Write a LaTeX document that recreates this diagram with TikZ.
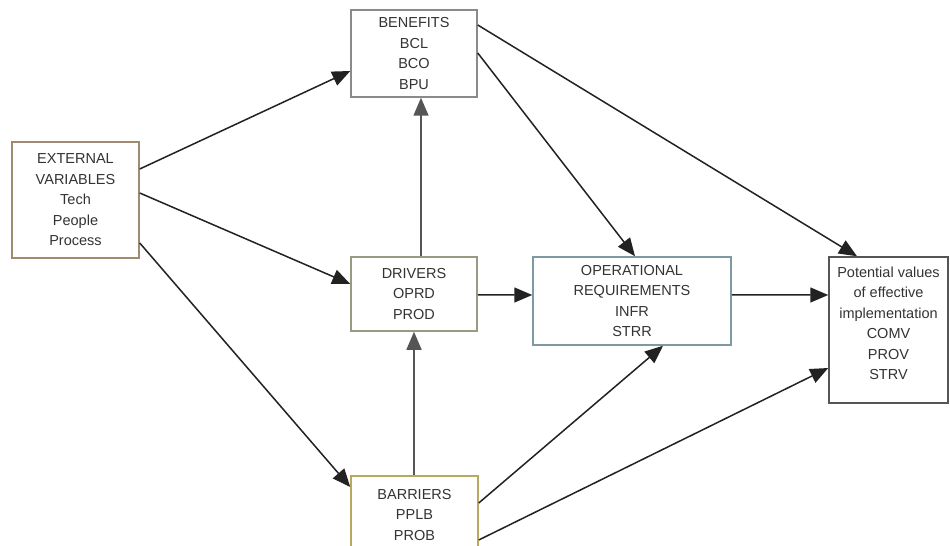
\documentclass[tikz,border=0pt]{standalone}
\usepackage{fontspec}
\setmainfont{Liberation Sans}
\usetikzlibrary{arrows.meta}
\definecolor{txtgray}{HTML}{333333}
\definecolor{extcol}{HTML}{A08A70}
\definecolor{bencol}{HTML}{8A8A8A}
\definecolor{drvcol}{HTML}{9A9A82}
\definecolor{opcol}{HTML}{7F99A3}
\definecolor{potcol}{HTML}{555555}
\definecolor{barcol}{HTML}{B8A860}
\definecolor{linkcol}{HTML}{222222}
\definecolor{vlinkcol}{HTML}{555555}
\begin{document}
\begin{tikzpicture}[x=1bp,y=-1bp,
  box/.style={draw, line width=1.5bp, fill=white, align=center, inner sep=0pt,
    text=txtgray, font=\fontsize{14.5bp}{20.5bp}\selectfont},
  link/.style={draw=linkcol, line width=1.5bp, -{Triangle[length=18bp,width=15bp]}},
  vlink/.style={link, draw=vlinkcol, line width=1.6bp}]
\useasboundingbox[fill=white] (0,0) rectangle (950,546);

% boxes
\node[box, draw=extcol, minimum width=127bp, minimum height=116bp] (ext) at (75.5,200)
  {EXTERNAL\\VARIABLES\\Tech\\People\\Process};
\node[box, draw=bencol, minimum width=126bp, minimum height=87bp] (ben) at (414,53.5)
  {BENEFITS\\BCL\\BCO\\BPU};
\node[box, draw=drvcol, minimum width=126bp, minimum height=74bp] (drv) at (414,294)
  {DRIVERS\\OPRD\\PROD};
\node[box, draw=opcol, minimum width=198bp, minimum height=88bp] (op) at (632,301)
  {OPERATIONAL\\REQUIREMENTS\\INFR\\STRR};
\node[box, draw=potcol, minimum width=119bp, minimum height=146bp] (pot) at (888.5,330)
  {Potential values\\of effective\\implementation\\COMV\\PROV\\STRV\\[-6.5bp]};
\node[box, draw=barcol, minimum width=127bp, minimum height=78bp] (bar) at (414.5,515)
  {BARRIERS\\PPLB\\PROB};

% connectors
\draw[link] ([yshift=31bp]ext.east) -- ([yshift=-17.5bp]ben.west);
\draw[link] ([yshift=7bp]ext.east) -- ([yshift=10bp]drv.west);
\draw[link] ([yshift=-43bp]ext.east) -- ([yshift=28bp]bar.west);
\draw[link] ([yshift=28.5bp]ben.east) -- ([xshift=-31.5bp]pot.north);
\draw[link] ([yshift=0.5bp]ben.east) -- ([xshift=3bp]op.north);
\draw[vlink] ([xshift=7bp]drv.north) -- ([xshift=7bp]ben.south);
\draw[vlink] ([xshift=-0.5bp]bar.north) -- ([xshift=-0.5bp]bar.north |- drv.south);
\draw[link] ([yshift=-1bp]drv.east) -- ([yshift=6bp]op.west);
\draw[link] ([yshift=6bp]op.east) -- ([yshift=35bp]pot.west);
\draw[link] ([yshift=12bp]bar.east) -- ([xshift=31bp]op.south);
\draw[link] ([yshift=-25bp]bar.east) -- ([yshift=-38bp]pot.west);
\end{tikzpicture}
\end{document}
